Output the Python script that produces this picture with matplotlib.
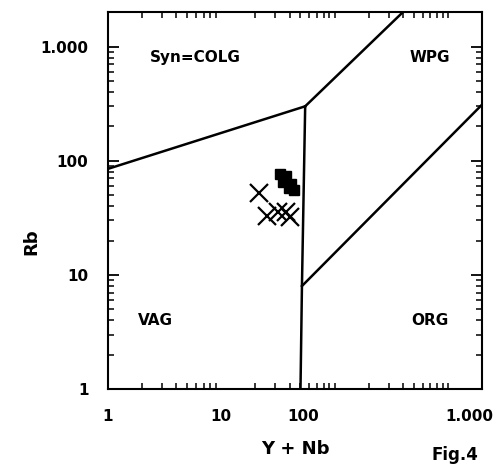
import numpy as np
import matplotlib
matplotlib.use('Agg')
import matplotlib.pyplot as plt
from matplotlib.ticker import LogLocator, NullFormatter

# Limites de los campos (Pearce et al. 1984), Y+Nb vs Rb
lim_syncolg_x = [1, 55]
lim_syncolg_y = [85, 300]
lim_wpg_x = [55, 400]
lim_wpg_y = [300, 2000]
lim_vag_x = [55, 51.5, 50]
lim_vag_y = [300, 8, 1]
lim_org_x = [51.5, 2000]
lim_org_y = [8, 310]

# Muestras (cuadrados negros)
cuad_x = [33, 37.6, 35.4, 41.6, 39.2, 43.4]
cuad_y = [76.9, 73.8, 65.4, 62.9, 57.9, 55.7]

# Muestras (cruces)
cruz_x = [21.7, 25.5, 31.9, 37.6, 40.8]
cruz_y = [52.4, 32.9, 35.7, 35.7, 32.3]

# Etiquetas de los ejes tal como aparecen en la figura
xtick_pos = [1, 10, 53, 1530]
xtick_lab = ['1', '10', '100', '1.000']
ytick_pos = [1, 10, 100, 1000]
ytick_lab = ['1', '10', '100', '1.000']

campos = ['Syn=COLG', 'WPG', 'VAG', 'ORG']

fig = plt.figure(figsize=(5, 4.7), dpi=100)
ax = fig.add_axes([0.216, 0.172, 0.748, 0.802])

ax.set_xscale('log')
ax.set_yscale('log')
ax.set_xlim(1, 2000)
ax.set_ylim(1, 2000)

lw = 1.8
ax.plot(lim_syncolg_x, lim_syncolg_y, color='black', lw=lw)
ax.plot(lim_wpg_x, lim_wpg_y, color='black', lw=lw)
ax.plot(lim_vag_x, lim_vag_y, color='black', lw=lw)
ax.plot(lim_org_x, lim_org_y, color='black', lw=lw)

ax.plot(cuad_x, cuad_y, 's', color='black', markersize=7, linestyle='none')
ax.plot(cruz_x, cruz_y, 'x', color='black', markersize=13, markeredgewidth=1.6, linestyle='none')

# Nombres de los campos
fuente = dict(fontsize=11, fontweight='bold', color='black', ha='center', va='center')
ax.text(0.233, 0.88, campos[0], transform=ax.transAxes, **fuente)
ax.text(0.861, 0.88, campos[1], transform=ax.transAxes, **fuente)
ax.text(0.126, 0.183, campos[2], transform=ax.transAxes, **fuente)
ax.text(0.861, 0.183, campos[3], transform=ax.transAxes, **fuente)

# Ejes
for s in ax.spines.values():
    s.set_linewidth(1.5)

ax.set_xticks(xtick_pos)
ax.set_xticklabels(xtick_lab, fontsize=11, fontweight='bold')
ax.tick_params(axis='x', which='major', length=0, pad=14)
ax.xaxis.set_minor_locator(LogLocator(base=10, subs=np.arange(1, 10), numticks=20))
ax.xaxis.set_minor_formatter(NullFormatter())

ax.set_yticks(ytick_pos)
ax.set_yticklabels(ytick_lab, fontsize=11, fontweight='bold')
ax.tick_params(axis='y', which='major', length=8, width=1.3, pad=14)
ax.yaxis.set_minor_locator(LogLocator(base=10, subs=np.arange(2, 10), numticks=20))
ax.yaxis.set_minor_formatter(NullFormatter())

ax.tick_params(which='both', direction='in', top=True, right=True)
ax.tick_params(which='minor', length=4, width=1.1)

ax.set_xlabel('Y + Nb', fontsize=13, fontweight='bold', labelpad=12)
ax.set_ylabel('Rb', fontsize=13, fontweight='bold')
ax.yaxis.set_label_coords(-0.18, 0.39)

fig.text(0.91, 0.032, 'Fig.4', fontsize=12, fontweight='bold', ha='center', va='center')

fig.savefig('out.png', dpi=100)
